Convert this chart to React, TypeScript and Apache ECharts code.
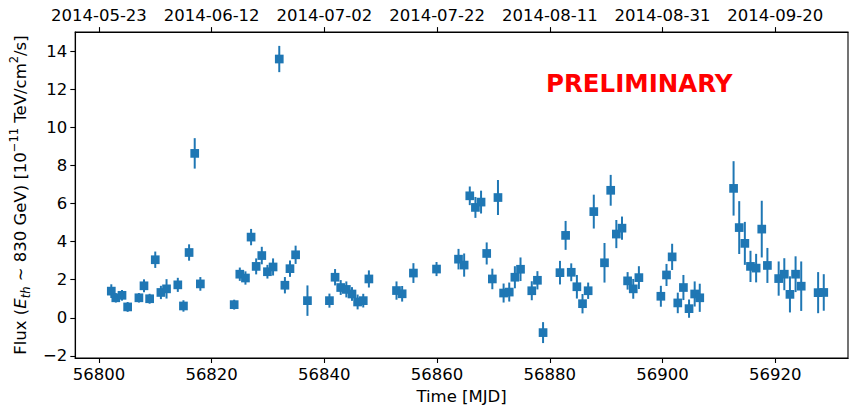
import React, { useEffect, useRef } from "react";
import * as echarts from "echarts";

const mjd = [
  56802.2, 56803.0, 56804.1, 56805.1, 56807.1, 56808.0, 56809.0, 56810.0, 56811.0, 56812.0,
  56814.0, 56815.0, 56816.0, 56817.0, 56818.0, 56824.0, 56825.0, 56826.0, 56827.0, 56827.9,
  56828.9, 56829.9, 56830.9, 56832.0, 56833.0, 56833.9, 56834.9, 56837.0, 56840.9, 56841.9,
  56842.9, 56843.9, 56844.9, 56845.9, 56846.9, 56847.9, 56852.8, 56853.8, 56855.8, 56859.9,
  56863.8, 56864.8, 56865.8, 56866.8, 56867.8, 56868.8, 56869.8, 56870.8, 56871.8, 56872.8,
  56873.8, 56874.8, 56876.8, 56877.8, 56878.8, 56881.8, 56882.8, 56883.8, 56884.8, 56885.8,
  56886.8, 56887.8, 56889.7, 56890.8, 56891.8, 56892.8, 56893.8, 56894.8, 56895.8, 56899.7,
  56900.7, 56901.7, 56902.7, 56903.7, 56904.7, 56905.7, 56906.6, 56912.6, 56913.6, 56914.6,
  56915.6, 56916.6, 56917.6, 56918.6, 56920.6, 56921.6, 56922.6, 56923.6, 56924.6, 56927.6,
  56928.6,
];

const flux = [
  1.40, 1.05, 1.18, 0.57, 1.05, 1.68, 1.00, 3.05, 1.33, 1.52,
  1.73, 0.62, 3.43, 8.64, 1.78, 0.69, 2.29, 2.09, 4.24, 2.70,
  3.27, 2.42, 2.67, 13.6, 1.71, 2.58, 3.31, 0.90, 0.90, 2.13,
  1.59, 1.49, 1.25, 0.83, 0.90, 2.04, 1.43, 1.26, 2.35, 2.56,
  3.08, 2.77, 6.41, 5.80, 6.08, 3.38, 2.04, 6.32, 1.30, 1.35,
  2.13, 2.55, 1.42, 1.97, -0.78, 2.37, 4.33, 2.39, 1.63, 0.74,
  1.42, 5.58, 2.89, 6.70, 4.40, 4.71, 1.94, 1.52, 2.11, 1.13,
  2.25, 3.20, 0.78, 1.59, 0.48, 1.25, 1.05, 6.80, 4.74, 3.91,
  2.70, 2.61, 4.66, 2.75, 2.06, 2.29, 1.23, 2.29, 1.66, 1.32,
  1.33,
];

const fluxErr = [
  0.36, 0.25, 0.28, 0.26, 0.25, 0.34, 0.26, 0.43, 0.35, 0.51,
  0.37, 0.30, 0.43, 0.80, 0.36, 0.26, 0.35, 0.35, 0.43, 0.42,
  0.46, 0.36, 0.45, 0.69, 0.43, 0.43, 0.48, 0.80, 0.37, 0.43,
  0.39, 0.42, 0.36, 0.39, 0.36, 0.45, 0.48, 0.41, 0.52, 0.37,
  0.54, 0.61, 0.49, 0.55, 0.60, 0.58, 0.54, 0.92, 0.50, 0.50,
  0.58, 0.62, 0.50, 0.48, 0.55, 0.62, 0.76, 0.47, 0.62, 0.51,
  0.43, 0.89, 1.04, 0.81, 0.74, 0.61, 0.46, 0.52, 0.60, 0.55,
  0.58, 0.69, 0.54, 0.66, 0.48, 0.66, 0.74, 1.43, 1.39, 1.13,
  0.82, 0.75, 1.49, 0.92, 0.90, 0.84, 0.95, 0.94, 1.30, 1.08,
  0.96,
];

const xTicks = [56800, 56820, 56840, 56860, 56880, 56900, 56920];
const dateLabels = ["2014-05-23", "2014-06-12", "2014-07-02", "2014-07-22", "2014-08-11", "2014-08-31", "2014-09-20"];
const yTicks = [-2, 0, 2, 4, 6, 8, 10, 12, 14];

const X_MIN = 56795.8;
const X_MAX = 56932.9;
const Y_MIN = -2.12;
const Y_MAX = 15.02;

const FONT = "DejaVu Sans";
const BLUE = "#1f77b4";

export default function App() {
  const ref = useRef<HTMLDivElement>(null);

  useEffect(() => {
    if (!ref.current) return;
    const chart = echarts.init(ref.current, null, { renderer: "svg" });

    const points = mjd.map((x, i) => [x, flux[i]]);
    const bars = mjd.map((x, i) => [x, flux[i], fluxErr[i]]);

    const axisCommon = {
      type: "value" as const,
      min: X_MIN,
      max: X_MAX,
      splitLine: { show: false },
      axisLine: { show: true, onZero: false, lineStyle: { color: "#000", width: 1.1 } },
      axisTick: { show: true, inside: false, length: 4.9, customValues: xTicks, lineStyle: { color: "#000", width: 1.1 } },
    };

    const fmtNum = (v: number) => (v < 0 ? "\u2212" + Math.abs(v) : String(v));

    const option: any = {
      animation: false,
      backgroundColor: "#fff",
      textStyle: { fontFamily: FONT },
      grid: { left: 64, right: 2, top: 32, bottom: 48, containLabel: false, show: true, borderColor: "#000", borderWidth: 1.1, backgroundColor: "transparent" },
      xAxis: [
        {
          ...axisCommon,
          position: "bottom",
          name: "Time [MJD]",
          nameLocation: "middle",
          nameGap: 29,
          nameTextStyle: { fontFamily: FONT, fontSize: 16.5, color: "#000" },
          axisLabel: {
            customValues: xTicks,
            margin: 8,
            fontFamily: FONT,
            fontSize: 16.5,
            color: "#000",
            formatter: (v: number) => String(v),
          },
        },
        {
          ...axisCommon,
          position: "top",
          axisLabel: {
            customValues: xTicks,
            margin: 8,
            fontFamily: FONT,
            fontSize: 16.5,
            color: "#000",
            formatter: (v: number) => {
              const i = xTicks.indexOf(Math.round(v));
              return i >= 0 ? dateLabels[i] : "";
            },
          },
        },
      ],
      yAxis: {
        type: "value",
        min: Y_MIN,
        max: Y_MAX,
        splitLine: { show: false },
        axisLine: { show: true, onZero: false, lineStyle: { color: "#000", width: 1.1 } },
        axisTick: { show: true, inside: false, length: 4.9, customValues: yTicks, lineStyle: { color: "#000", width: 1.1 } },
        axisLabel: {
          customValues: yTicks,
          margin: 8,
          fontFamily: FONT,
          fontSize: 16.5,
          color: "#000",
          formatter: (v: number) => fmtNum(Math.round(v)),
        },
        name:
          "{n|Flux (}{i|E}{sub|th}{n| \u223C 830 GeV) [10}{sup|\u221211}{n| TeV/cm}{sup|2}{n|/s]}",
        nameLocation: "middle",
        nameGap: 37,
        nameTextStyle: {
          color: "#000",
          fontFamily: FONT,
          fontSize: 16.5,
          rich: {
            n: { fontFamily: FONT, fontSize: 16.5, color: "#000", lineHeight: 24, verticalAlign: "middle" },
            i: { fontFamily: FONT, fontSize: 16.5, fontStyle: "italic", color: "#000", lineHeight: 24, verticalAlign: "middle" },
            sub: { fontFamily: FONT, fontSize: 11.5, fontStyle: "italic", color: "#000", lineHeight: 14, verticalAlign: "bottom" },
            sup: { fontFamily: FONT, fontSize: 11.5, color: "#000", lineHeight: 14, verticalAlign: "top" },
          },
        },
      },
      graphic: [
        {
          type: "text",
          left: 546,
          top: 71,
          style: {
            text: "PRELIMINARY",
            fill: "#ff0000",
            font: `bold 24.5px "${FONT}"`,
          },
        },
      ],
      series: [
        {
          type: "custom",
          xAxisIndex: 0,
          yAxisIndex: 0,
          data: bars,
          encode: { x: 0, y: 1 },
          renderItem: (params: any, api: any) => {
            const x = api.value(0);
            const y = api.value(1);
            const e = api.value(2);
            const p1 = api.coord([x, y - e]);
            const p2 = api.coord([x, y + e]);
            return {
              type: "line",
              shape: { x1: p1[0], y1: p1[1], x2: p2[0], y2: p2[1] },
              style: { stroke: BLUE, lineWidth: 2 },
            };
          },
          z: 2,
        },
        {
          type: "scatter",
          xAxisIndex: 0,
          yAxisIndex: 0,
          data: points,
          symbol: "rect",
          symbolSize: 8.7,
          itemStyle: { color: BLUE, opacity: 1 },
          z: 3,
        },
      ],
    };

    chart.setOption(option);
    return () => chart.dispose();
  }, []);

  return (
    <div
      ref={ref}
      style={{ position: "fixed", left: 0, top: 0, width: 850, height: 410, background: "#fff" }}
    />
  );
}
